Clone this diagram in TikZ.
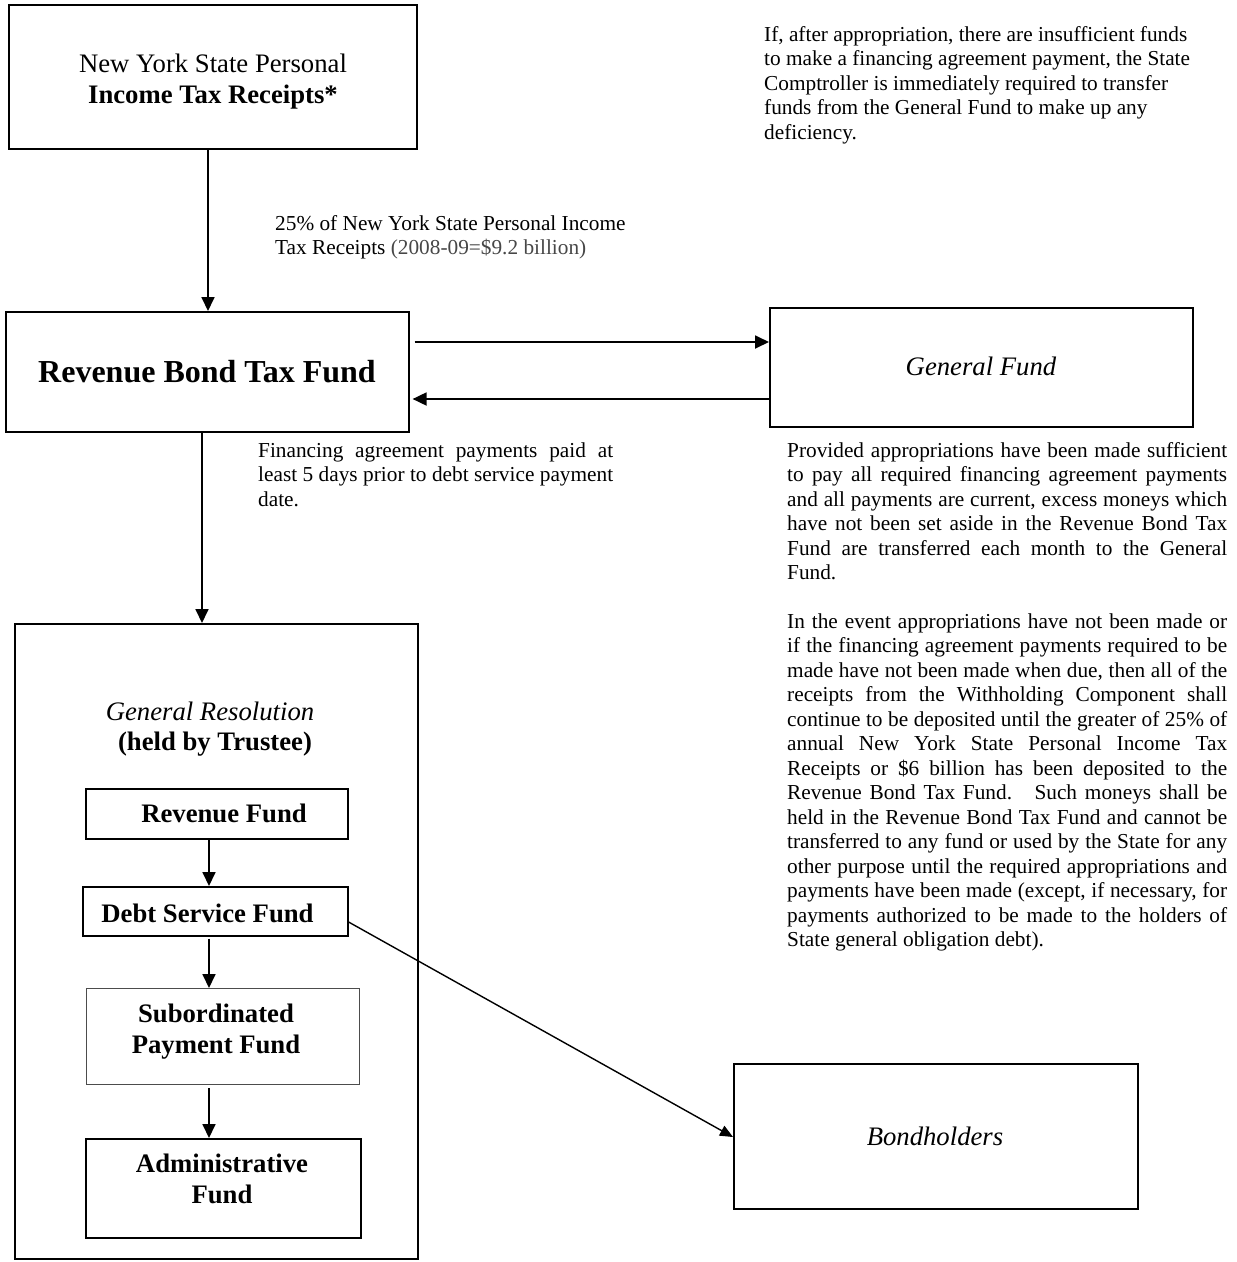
\documentclass[tikz,border=0pt]{standalone}
\usepackage{fontspec}
\setmainfont{Liberation Serif}
\usetikzlibrary{arrows.meta,calc}
\newcommand{\JL}[1]{\makebox[\linewidth][s]{#1}\par}
\newcommand{\bxf}{\fontsize{26.7}{31.5}\selectfont}
\newcommand{\pf}{\fontsize{21.3}{24.5}\selectfont}
\begin{document}
\begin{tikzpicture}[x=1pt,y=-1pt,
  box/.style={draw, line width=1.6pt, inner sep=0pt, anchor=north west},
  thinbox/.style={draw=black!70, line width=1pt, inner sep=0pt, anchor=north west},
  txt/.style={inner sep=0pt, anchor=base},
  para/.style={inner sep=0pt, anchor=base west},
  arr/.style={line width=1.8pt, -{Triangle[length=14pt,width=13pt]}},
  darr/.style={line width=1.4pt, -{Triangle[length=13pt,width=11pt]}},
]
\useasboundingbox (0,0) rectangle (1237,1262);
\fill[white] (0,0) rectangle (1237,1262);

% boxes
\node[box, minimum width=408pt, minimum height=144pt] (b1) at (8,4) {};
\node[box, minimum width=403pt, minimum height=120pt] (rb) at (5,311) {};
\node[box, minimum width=423pt, minimum height=119pt] (gf) at (769,307) {};
\node[box, minimum width=403pt, minimum height=635pt] (gr) at (14,623) {};
\node[box, minimum width=262pt, minimum height=50pt] (rf) at (85,788) {};
\node[box, minimum width=265pt, minimum height=49pt] (dsf) at (82,886) {};
\node[thinbox, minimum width=273pt, minimum height=96pt] (sub) at (86,988) {};
\node[box, minimum width=275pt, minimum height=99pt] (adm) at (85,1138) {};
\node[box, minimum width=404pt, minimum height=145pt] (bh) at (733,1063) {};

% box texts
\node[txt] (b1t) at (213,72) {\bxf\parbox[t]{400pt}{\centering New York State Personal\\ \textbf{Income Tax Receipts*}}};
\node[txt] (rbt) at (207,382) {\fontsize{32}{38}\selectfont\bfseries Revenue Bond Tax Fund};
\node[txt] (gft) at (981,375) {\bxf\itshape General Fund};
\node[txt] (bht) at (935,1145) {\bxf\itshape Bondholders};
\node[txt] (grt1) at (210,720) {\bxf\itshape General Resolution};
\node[txt] (grt2) at (215,750) {\bxf\bfseries (held by Trustee)};
\node[txt] (rft) at (224,822) {\bxf\bfseries Revenue Fund};
\node[txt] (dsft) at (207.5,922) {\bxf\bfseries Debt Service Fund};
\node[txt] (subt) at (216,1022) {\bxf\bfseries\parbox[t]{260pt}{\centering Subordinated\\ Payment Fund}};
\node[txt] (admt) at (222,1172) {\bxf\bfseries\parbox[t]{260pt}{\centering Administrative\\ Fund}};

% labels and paragraphs
\node[para] (lab1) at (275,230) {\pf\parbox[t]{380pt}{25\% of New York State Personal Income\\ Tax Receipts \textcolor{black!72}{(2008-09=\$9.2 billion)}}};
\node[para] (lab2) at (258,457) {\pf\parbox[t]{355pt}{%
\JL{Financing agreement payments paid at}
\JL{least 5 days prior to debt service payment}
date.}};
\node[para] (p1) at (764,41) {\pf\parbox[t]{460pt}{If, after appropriation, there are insufficient funds\\
to make a financing agreement payment, the State\\
Comptroller is immediately required to transfer\\
funds from the General Fund to make up any\\
deficiency.}};
\node[para] (p2) at (787,457) {\pf\parbox[t]{440pt}{%
\JL{Provided appropriations have been made sufficient}
\JL{to pay all required financing agreement payments}
\JL{and all payments are current, excess moneys which}
\JL{have not been set aside in the Revenue Bond Tax}
\JL{Fund are transferred each month to the General}
Fund.}};
\node[para] (p3) at (787,628) {\pf\parbox[t]{440pt}{%
\JL{In the event appropriations have not been made or}
\JL{if the financing agreement payments required to be}
\JL{made have not been made when due, then all of the}
\JL{receipts from the Withholding Component shall}
\JL{continue to be deposited until the greater of 25\% of}
\JL{annual New York State Personal Income Tax}
\JL{Receipts or \$6 billion has been deposited to the}
\JL{Revenue Bond Tax Fund.~ Such moneys shall be}
\JL{held in the Revenue Bond Tax Fund and cannot be}
\JL{transferred to any fund or used by the State for any}
\JL{other purpose until the required appropriations and}
\JL{payments have been made (except, if necessary, for}
\JL{payments authorized to be made to the holders of}
State general obligation debt).}};

% connectors
\coordinate (c1) at (208,0);
\coordinate (c2) at (202,0);
\coordinate (c3) at (209,0);
\coordinate (r1) at (0,342);
\coordinate (r2) at (0,399);
\coordinate (d1) at (0,922);
\coordinate (d2) at (0,1137);
\draw[arr] (c1 |- b1.south) -- (c1 |- rb.north);
\draw[arr] ($(rb.east |- r1)+(5,0)$) -- (gf.west |- r1);
\draw[arr] (gf.west |- r2) -- ($(rb.east |- r2)+(3,0)$);
\draw[arr] (c2 |- rb.south) -- (c2 |- gr.north);
\draw[arr] (c3 |- rf.south) -- (c3 |- dsf.north);
\draw[arr] ($(c3 |- dsf.south)+(0,2)$) -- (c3 |- sub.north);
\draw[arr] ($(c3 |- sub.south)+(0,3)$) -- (c3 |- adm.north);
\draw[darr] (dsf.east |- d1) -- (bh.west |- d2);
\end{tikzpicture}
\end{document}
